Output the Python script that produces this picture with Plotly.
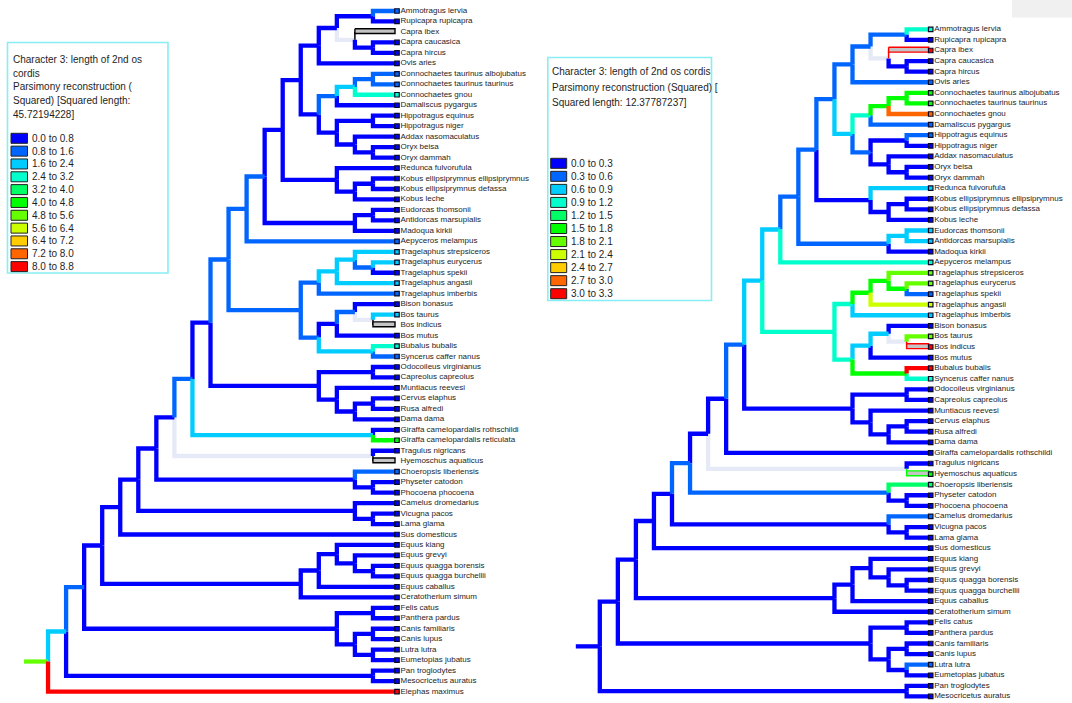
import re
import plotly.graph_objects as go

# ---------------- data ----------------
PALETTE = ['#0000FF', '#0066FF', '#00CCFF', '#00FFCC', '#00FF66', '#00FF00',
           '#66FF00', '#CCFF00', '#FFCC00', '#FF6600', '#FF0000']
PALE = '#E6EAF7'

left_legend_labels = ['0.0 to 0.8', '0.8 to 1.6', '1.6 to 2.4', '2.4 to 3.2', '3.2 to 4.0',
                      '4.0 to 4.8', '4.8 to 5.6', '5.6 to 6.4', '6.4 to 7.2', '7.2 to 8.0',
                      '8.0 to 8.8']
right_legend_labels = ['0.0 to 0.3', '0.3 to 0.6', '0.6 to 0.9', '0.9 to 1.2', '1.2 to 1.5',
                       '1.5 to 1.8', '1.8 to 2.1', '2.1 to 2.4', '2.4 to 2.7', '2.7 to 3.0',
                       '3.0 to 3.3']
left_title_lines = ['Character 3: length of 2nd os', 'cordis', 'Parsimony reconstruction (',
                    'Squared) [Squared length:', '45.72194228]']
right_title_lines = ['Character 3: length of 2nd os cordis', 'Parsimony reconstruction (Squared) [',
                     'Squared length: 12.37787237]']

# Clades in Newick form; {NAME} refers to another clade.  Value after ':' is the
# reconstructed state class of the branch (palette index); 'p' = equivocal,
# 'x' = missing (outline box), 'xN' = box outlined in class N.
left_clades = {
    'ROOT': '({A16}:2,Elephas maximus:10):6',
    'A16': '({A15}:1,(Pan troglodytes:0,Mesocricetus auratus:0):0)',
    'A15': '({A14}:0,{CARN}:0)',
    'CARN': '((Felis catus:0,Panthera pardus:0):0,((Canis familiaris:0,Canis lupus:0):0,'
            '(Lutra lutra:0,Eumetopias jubatus:0):0):0)',
    'A14': '({A13}:0,{PERI}:0)',
    'PERI': '(((Equus kiang:0,(Equus grevyi:0,(Equus quagga borensis:0,Equus quagga burchellii:0):0):0):0,'
            'Equus caballus:0):0,Ceratotherium simum:0)',
    'A13': '({A12}:0,Sus domesticus:0)',
    'A12': '({A11}:0,{CAM}:0)',
    'CAM': '(Camelus dromedarius:0,(Vicugna pacos:0,Lama glama:0):0)',
    'A11': '({A10}:0,{WHIP}:0)',
    'WHIP': '(Choeropsis liberiensis:1,(Physeter catodon:0,Phocoena phocoena:0):0)',
    'A10': '({A9}:1,(Tragulus nigricans:0,Hyemoschus aquaticus:x):p)',
    'A9': '({A8}:0,(Giraffa camelopardalis rothschildi:0,Giraffa camelopardalis reticulata:5):2)',
    'A8': '({A7}:1,{CERV}:0)',
    'CERV': '((Odocoileus virginianus:0,Capreolus capreolus:0):0,(Muntiacus reevesi:0,'
            '((Cervus elaphus:0,Rusa alfredi:0):0,Dama dama:0):0):0)',
    'A7': '({A6}:1,({TRAG}:1,{BOV}:1):1)',
    'TRAG': '(((Tragelaphus strepsiceros:2,(Tragelaphus eurycerus:2,Tragelaphus spekii:0):1):2,'
            'Tragelaphus angasii:2):2,Tragelaphus imberbis:1)',
    'BOV': '(((Bison bonasus:0,(Bos taurus:2,Bos indicus:x):p):1,Bos mutus:0):0,'
           '(Bubalus bubalis:3,Syncerus caffer nanus:1):2)',
    'A6': '({A5}:1,Aepyceros melampus:1)',
    'A5': '({A4}:0,((Eudorcas thomsonii:0,Antidorcas marsupialis:0):0,Madoqua kirkii:0):0)',
    'A4': '({A3}:0,(Redunca fulvorufula:0,((Kobus ellipsiprymnus ellipsiprymnus:0,'
          'Kobus ellipsiprymnus defassa:0):0,Kobus leche:0):0):0)',
    'A3': '({A2}:0,{ALC}:0)',
    'ALC': '((((Connochaetes taurinus albojubatus:1,Connochaetes taurinus taurinus:1):1,Connochaetes gnou:3):2,'
           'Damaliscus pygargus:0):1,((Hippotragus equinus:0,Hippotragus niger:0):0,'
           '(Addax nasomaculatus:0,(Oryx beisa:0,Oryx dammah:0):0):0):0)',
    'A2': '({A1}:0,Ovis aries:0)',
    'A1': '((Ammotragus lervia:1,Rupicapra rupicapra:0):0,(Capra ibex:x,(Capra caucasica:0,Capra hircus:0):0):p)',
}

right_clades = {
    'ROOT': '({A15}:0,(Pan troglodytes:0,Mesocricetus auratus:0):0):0',
    'A15': '({A14}:0,{CARN}:0)',
    'CARN': '((Felis catus:0,Panthera pardus:0):0,((Canis familiaris:0,Canis lupus:0):0,'
            '(Lutra lutra:1,Eumetopias jubatus:0):0):0)',
    'A14': '({A13}:0,{PERI}:0)',
    'PERI': '(((Equus kiang:0,(Equus grevyi:0,(Equus quagga borensis:0,Equus quagga burchellii:0):0):0):0,'
            'Equus caballus:0):0,Ceratotherium simum:0)',
    'A13': '({A12}:0,Sus domesticus:0)',
    'A12': '({A11}:1,{CAM}:0)',
    'CAM': '(Camelus dromedarius:1,(Vicugna pacos:0,Lama glama:0):0)',
    'A11': '({A10}:0,{WHIP}:1)',
    'WHIP': '(Choeropsis liberiensis:4,(Physeter catodon:0,Phocoena phocoena:0):0)',
    'A10': '({A9}:0,(Tragulus nigricans:0,Hyemoschus aquaticus:x5):p)',
    'A9': '({A8}:1,Giraffa camelopardalis rothschildi:0)',
    'A8': '({A7}:2,{CERV}:0)',
    'CERV': '((Odocoileus virginianus:0,Capreolus capreolus:0):0,(Muntiacus reevesi:0,'
            '((Cervus elaphus:0,Rusa alfredi:0):0,Dama dama:0):0):0)',
    'A7': '({A6}:2,({TRAG}:3,{BOV}:3):3)',
    'TRAG': '(((Tragelaphus strepsiceros:6,(Tragelaphus eurycerus:6,Tragelaphus spekii:1):5):5,'
            'Tragelaphus angasii:7):5,Tragelaphus imberbis:2)',
    'BOV': '(((Bison bonasus:0,(Bos taurus:6,Bos indicus:x10):p):2,Bos mutus:0):2,'
           '(Bubalus bubalis:10,Syncerus caffer nanus:3):5)',
    'A6': '({A5}:1,Aepyceros melampus:3)',
    'A5': '({A4}:1,((Eudorcas thomsonii:2,Antidorcas marsupialis:2):2,Madoqua kirkii:0):1)',
    'A4': '({A3}:1,(Redunca fulvorufula:2,((Kobus ellipsiprymnus ellipsiprymnus:0,'
          'Kobus ellipsiprymnus defassa:0):0,Kobus leche:0):0):0)',
    'A3': '({A2}:1,{ALC}:2)',
    'ALC': '((((Connochaetes taurinus albojubatus:5,Connochaetes taurinus taurinus:5):5,Connochaetes gnou:9):5,'
           'Damaliscus pygargus:1):3,((Hippotragus equinus:1,Hippotragus niger:0):0,'
           '(Addax nasomaculatus:0,(Oryx beisa:0,Oryx dammah:0):0):0):1)',
    'A2': '({A1}:1,Ovis aries:1)',
    'A1': '((Ammotragus lervia:3,Rupicapra rupicapra:0):1,(Capra ibex:x10,(Capra caucasica:0,Capra hircus:0):0):p)',
}

# ---------------- layout constants (pixels) ----------------
W, H = 1072, 703
STEP = 18.05          # px per node level
LEFT = dict(leaf_px=391.0, top_px=11.0, row_px=10.47, xdom=(0.0, 0.5), ax='x', ay='y')
RIGHT = dict(leaf_px=924.7, top_px=29.3, row_px=10.59, xdom=(0.5, 1.0), ax='x2', ay='y2')
LINE_W = 4.3
FONT = 'Liberation Sans, Arial, sans-serif'
TEXT_COLOR = '#1e1e1e'


def expand(clades, key='ROOT'):
    return re.sub(r'\{(\w+)\}', lambda m: expand(clades, m.group(1)), clades[key])


def parse(s):
    pos = 0

    def node():
        nonlocal pos
        if s[pos] == '(':
            pos += 1
            kids = [node()]
            while s[pos] == ',':
                pos += 1
                kids.append(node())
            pos += 1
            name = None
        else:
            j = pos
            while s[pos] not in ':,)':
                pos += 1
            name = s[j:pos]
            kids = []
        code = None
        if pos < len(s) and s[pos] == ':':
            pos += 1
            j = pos
            while pos < len(s) and s[pos] not in ',)':
                pos += 1
            code = s[j:pos]
        return {'name': name, 'kids': kids, 'code': code, 'parent': None}

    return node()


def layout_tree(root):
    leaves = []

    def walk(n):
        if not n['kids']:
            n['y'] = len(leaves)
            n['h'] = 0
            leaves.append(n)
        else:
            for k in n['kids']:
                k['parent'] = n
                walk(k)
            n['h'] = 1 + max(k['h'] for k in n['kids'])
            n['y'] = (n['kids'][0]['y'] + n['kids'][-1]['y']) / 2
    walk(root)
    return leaves


def all_nodes(n):
    yield n
    for k in n['kids']:
        yield from all_nodes(k)


fig = go.Figure()


def draw_tree(clades, cfg):
    root = parse(expand(clades))
    leaves = layout_tree(root)
    u = 1.0 / STEP                 # px -> x units
    v = 1.0 / cfg['row_px']        # px -> y units
    leaf_end = -4 * u
    segs = {}
    boxes = []

    def add(col, xs, ys):
        d = segs.setdefault(col, ([], []))
        d[0].extend(xs + [None])
        d[1].extend(ys + [None])

    for n in all_nodes(root):
        p = n['parent']
        if p is None:
            add(PALETTE[int(n['code'])], [n['h'] + 24 * u, n['h']], [n['y'], n['y']])
            continue
        x_end = leaf_end if not n['kids'] else n['h']
        code = n['code']
        if code.startswith('x'):
            boxes.append((n, p, code))
            continue
        col = PALE if code == 'p' else PALETTE[int(code)]
        add(col, [p['h'], p['h'], x_end], [p['y'], n['y'], n['y']])

    for col in [PALE] + PALETTE:
        if col in segs:
            xs, ys = segs[col]
            fig.add_trace(go.Scatter(x=xs, y=ys, mode='lines', xaxis=cfg['ax'], yaxis=cfg['ay'],
                                     line=dict(color=col, width=LINE_W), hoverinfo='skip',
                                     showlegend=False))
    for n, p, code in boxes:
        oc = '#000000' if code == 'x' else PALETTE[int(code[1:])]
        yc = n['y'] - 0.8 * v
        hh = 2.4 * v
        fig.add_trace(go.Scatter(x=[p['h'], p['h']], y=[p['y'], n['y']], mode='lines',
                                 xaxis=cfg['ax'], yaxis=cfg['ay'],
                                 line=dict(color=oc, width=1.5), hoverinfo='skip', showlegend=False))
        x0, x1 = p['h'], leaf_end
        fig.add_trace(go.Scatter(x=[x0, x1, x1, x0, x0], y=[yc - hh, yc - hh, yc + hh, yc + hh, yc - hh],
                                 mode='lines', fill='toself', fillcolor='#C4C4C4',
                                 xaxis=cfg['ax'], yaxis=cfg['ay'],
                                 line=dict(color=oc, width=1.4), hoverinfo='skip', showlegend=False))
    sx, sy, sc = [], [], []
    for n in leaves:
        c = n['code']
        if c == 'x':
            continue
        col = PALETTE[int(c[1:])] if c.startswith('x') else (PALE if c == 'p' else PALETTE[int(c)])
        sx.append(-6 * u)
        sy.append(n['y'])
        sc.append(col)
    fig.add_trace(go.Scatter(x=sx, y=sy, mode='markers', xaxis=cfg['ax'], yaxis=cfg['ay'],
                             marker=dict(symbol='square', size=4.5, color=sc,
                                         line=dict(color='#0a0a28', width=1.2)),
                             hoverinfo='skip', showlegend=False))
    fig.add_trace(go.Scatter(x=[-9.5 * u] * len(leaves), y=[n['y'] for n in leaves],
                             text=[n['name'] for n in leaves], mode='text', textposition='middle right',
                             textfont=dict(family=FONT, size=8, color=TEXT_COLOR),
                             xaxis=cfg['ax'], yaxis=cfg['ay'], hoverinfo='skip', showlegend=False,
                             cliponaxis=False))
    px0 = cfg['xdom'][0] * W
    px1 = cfg['xdom'][1] * W
    xr = [(cfg['leaf_px'] - px0) / STEP, (cfg['leaf_px'] - px1) / STEP]
    yr = [(H - cfg['top_px']) / cfg['row_px'], (0 - cfg['top_px']) / cfg['row_px']]
    return xr, yr


xr1, yr1 = draw_tree(left_clades, LEFT)
xr2, yr2 = draw_tree(right_clades, RIGHT)

ax_common = dict(visible=False, showgrid=False, zeroline=False, fixedrange=True)
fig.update_layout(
    width=W, height=H, margin=dict(l=0, r=0, t=0, b=0),
    paper_bgcolor='white', plot_bgcolor='white',
    xaxis=dict(domain=list(LEFT['xdom']), range=xr1, **ax_common),
    yaxis=dict(domain=[0, 1], range=yr1, **ax_common),
    xaxis2=dict(domain=list(RIGHT['xdom']), range=xr2, anchor='y2', **ax_common),
    yaxis2=dict(domain=[0, 1], range=yr2, anchor='x2', **ax_common),
)

shapes = []
annots = []


def px(x):
    return x / W


def py(y):
    return 1 - y / H


def legend(box, title_lines, title_x, title_y0, title_dy, labels, sw_x0, sw_x1, sw_y0, sw_dy):
    shapes.append(dict(type='rect', xref='paper', yref='paper', x0=px(box[0]), x1=px(box[1]),
                       y0=py(box[2]), y1=py(box[3]), line=dict(color='#86EEF4', width=1.6),
                       fillcolor='rgba(0,0,0,0)', layer='below'))
    for i, t in enumerate(title_lines):
        annots.append(dict(xref='paper', yref='paper', x=px(title_x), y=py(title_y0 + i * title_dy),
                           text=t, showarrow=False, xanchor='left', yanchor='middle',
                           font=dict(family=FONT, size=10, color=TEXT_COLOR)))
    for i, lab in enumerate(labels):
        yc = sw_y0 + i * sw_dy
        shapes.append(dict(type='rect', xref='paper', yref='paper', x0=px(sw_x0), x1=px(sw_x1),
                           y0=py(yc - 5), y1=py(yc + 5), fillcolor=PALETTE[i],
                           line=dict(color='#202020', width=1)))
        annots.append(dict(xref='paper', yref='paper', x=px(sw_x1 + 2), y=py(yc), text=lab,
                           showarrow=False, xanchor='left', yanchor='middle',
                           font=dict(family=FONT, size=10, color=TEXT_COLOR)))


legend((7.5, 168, 42.5, 273), left_title_lines, 10.5, 59.5, 13.65, left_legend_labels,
       11, 27.5, 138.3, 12.83)
legend((547.8, 711.5, 57.5, 300.5), right_title_lines, 549.5, 71.8, 15.5, right_legend_labels,
       550.7, 566.7, 163.3, 13.04)

shapes.append(dict(type='rect', xref='paper', yref='paper', x0=px(1012), x1=1, y0=py(17.5), y1=1,
                   fillcolor='#F0F0F0', line=dict(width=0), layer='below'))

fig.update_layout(shapes=shapes, annotations=annots)
fig.write_html('out.html', config={'displayModeBar': False},
               post_script="document.body.style.margin='0px';")
